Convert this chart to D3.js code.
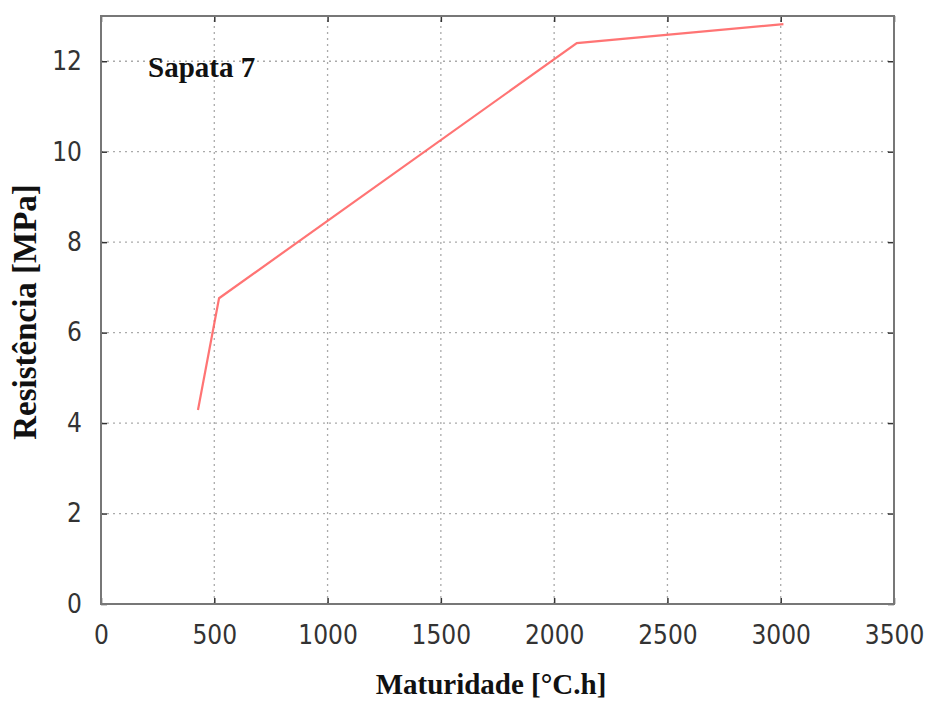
<!DOCTYPE html>
<html><head><meta charset="utf-8">
<script src="https://cdn.jsdelivr.net/npm/d3@7"></script>
<style>body{margin:0;background:#fff}</style>
</head><body>
<svg id="c" width="925" height="701"></svg>
<script>
const maturity = [428, 521, 2100, 3012];
const strength = [4.29, 6.76, 12.4, 12.82];
const xTicks = [0, 500, 1000, 1500, 2000, 2500, 3000, 3500];
const yTicks = [0, 2, 4, 6, 8, 10, 12];
const title = "Sapata 7";
const xLabel = "Maturidade [°C.h]";
const yLabel = "Resistência [MPa]";

const svg = d3.select("#c");
const L = 101, R = 894, T = 16, B = 604;
const x = d3.scaleLinear().domain([0, 3500]).range([L, R]);
const y = d3.scaleLinear().domain([0, 13]).range([B, T]);

// grid
const g = svg.append("g");
g.selectAll(".gx").data(xTicks.filter(d => d > 0 && d < 3500)).join("line")
  .attr("x1", d => x(d)).attr("x2", d => x(d)).attr("y1", B).attr("y2", T)
  .attr("stroke", "#aaa").attr("stroke-width", 1.3).attr("stroke-dasharray", "2,4");
g.selectAll(".gy").data(yTicks.filter(d => d > 0)).join("line")
  .attr("x1", L).attr("x2", R).attr("y1", d => y(d)).attr("y2", d => y(d))
  .attr("stroke", "#aaa").attr("stroke-width", 1.3).attr("stroke-dasharray", "2,4");

// axes
const tickFont = "'DejaVu Sans Condensed', 'DejaVu Sans', sans-serif";
const xa = svg.append("g").attr("transform", `translate(0,${B})`)
  .call(d3.axisBottom(x).tickValues(xTicks).tickSize(-6).tickPadding(22).tickFormat(d3.format("d")));
const xt = svg.append("g").attr("transform", `translate(0,${T})`)
  .call(d3.axisTop(x).tickValues(xTicks).tickSize(-6).tickFormat(""));
const ya = svg.append("g").attr("transform", `translate(${L},0)`)
  .call(d3.axisLeft(y).tickValues(yTicks).tickSize(-6).tickPadding(19).tickFormat(d3.format("d")));
const yr = svg.append("g").attr("transform", `translate(${R},0)`)
  .call(d3.axisRight(y).tickValues(yTicks).tickSize(-6).tickFormat(""));
[xa, xt, ya, yr].forEach(a => {
  a.select(".domain").remove();
  a.selectAll(".tick line").attr("stroke", "#333").attr("stroke-width", 1.5);
  a.selectAll("text").attr("font-family", tickFont).attr("font-size", 26).attr("fill", "#333");
});
xa.selectAll("text").attr("dy", "0.71em");

svg.append("rect").attr("x", L).attr("y", T).attr("width", R - L).attr("height", B - T)
  .attr("fill", "none").attr("stroke", "#777").attr("stroke-width", 2);

// line
svg.append("path").datum(maturity.map((m, i) => [m, strength[i]]))
  .attr("d", d3.line().x(d => x(d[0])).y(d => y(d[1])))
  .attr("fill", "none").attr("stroke", "#ff5c5c").attr("stroke-width", 2.2).attr("stroke-opacity", 0.85);

// texts
const serif = "'Liberation Serif', 'Times New Roman', serif";
svg.append("text").attr("x", 148).attr("y", 77).text(title)
  .attr("font-family", serif).attr("font-weight", "bold").attr("font-size", 29).attr("fill", "#111");
svg.append("text").attr("x", 491).attr("y", 694).attr("text-anchor", "middle").text(xLabel)
  .attr("font-family", serif).attr("font-weight", "bold").attr("font-size", 29).attr("fill", "#111");
svg.append("text").attr("transform", "translate(36,312) rotate(-90)").attr("text-anchor", "middle").text(yLabel)
  .attr("font-family", serif).attr("font-weight", "bold").attr("font-size", 33).attr("fill", "#111");
</script>
</body></html>
